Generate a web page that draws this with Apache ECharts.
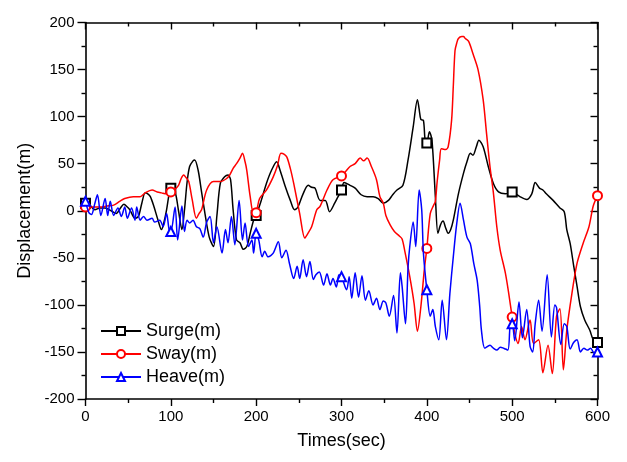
<!DOCTYPE html>
<html><head><meta charset="utf-8">
<script src="https://cdn.jsdelivr.net/npm/echarts@6/dist/echarts.min.js"></script>
<style>html,body{margin:0;padding:0;background:#fff}#c{width:627px;height:462px}</style>
</head><body><div id="c"></div>
<script>
var seriesNames = ['Surge(m)', 'Sway(m)', 'Heave(m)'];
var xTicks = [0, 100, 200, 300, 400, 500, 600];
var yTicks = [-200, -150, -100, -50, 0, 50, 100, 150, 200];

var surgeT = [0,5,11,17,23,30,36,41,45,49,52,58,62,66,70,73,76,80,85,89,92,95,98,100,105,109,113,116,119,122,126,128,132,136,140,145,150,154,158,163,167,170,173,177,181,185,189,193,197,200,206,212,218,224,228,234,240,245,249,255,261,265,269,275,281,286,292,296,300,303,310,316,323,330,337,343,349,355,360,365,372,378,384,389,391,393,396,398,400,403,406,410,413,416,419,422,425,428,431,437,443,447,451,454,458,461,466,472,478,484,492,500,504,509,517,523,527,532,536,540,548,556,561,564,568,572,576,580,585,591,595,600];
var surgeV = [8,6,1,3,3,0,-3,3,7,4,1,-8,-6,8,19,18,15,5,-10,-20,-12,1,18,24,20,0,-20,1,30,47,53,54,43,20,-3,-28,-38,-5,29,36,38,33,1,-31,-34,-41,-38,-24,-10,-5,11,29,43,52,43,26,11,1,4,18,27,25,24,11,11,-1,8,15,22,30,27,24,17,15,15,13,8,11,17,22,27,54,89,118,108,97,96,75,72,84,75,15,-24,-15,-11,-18,-24,-20,-10,18,40,52,61,59,68,75,68,47,29,20,18,20,18,15,12,18,30,24,22,18,11,3,-1,-20,-35,-58,-80,-102,-116,-127,-137,-140];

var swayT = [0,10,17,25,33,40,46,56,64,70,78,84,89,95,100,105,109,112,115,118,121,125,130,133,136,142,150,158,165,169,173,177,181,184,187,189,193,197,200,204,212,220,225,229,233,236,240,244,251,257,260,265,271,275,283,290,300,305,310,316,322,326,330,335,341,345,349,352,357,362,368,371,374,380,385,389,393,397,400,404,408,410,412,415,417,422,425,429,431,433,435,437,441,443,445,449,454,460,466,470,474,478,482,486,492,496,500,503,507,511,515,521,525,531,536,542,547,552,556,560,564,570,576,583,590,595,600];
var swayV = [4,4,4,5,6,10,13,15,15,19,22,20,19,18,20,23,27,34,38,35,31,12,-8,-3,1,22,31,31,34,38,45,50,56,61,52,43,15,-3,-2,13,22,36,48,61,60,57,45,29,-3,-29,-25,-17,1,5,22,33,37,42,47,50,56,53,56,47,33,15,8,-5,-15,-22,-27,-30,-42,-70,-98,-128,-102,-63,-40,-3,6,10,30,54,66,65,68,96,132,170,178,183,185,185,183,180,167,150,118,82,47,19,-17,-42,-66,-88,-113,-130,-141,-123,-137,-116,-141,-137,-172,-143,-173,-112,-104,-169,-127,-88,-56,-35,-17,5,16];

var heaveT = [0,4,7,11,14,18,23,26,29,33,38,42,46,49,54,58,60,64,68,72,78,81,87,91,95,98,100,105,108,113,116,119,122,126,130,134,138,142,146,150,154,160,164,167,171,175,180,184,187,191,195,197,200,203,207,210,214,220,226,230,235,239,244,248,251,255,259,263,267,270,274,279,283,287,290,294,297,300,306,309,312,316,320,324,328,332,337,341,345,349,352,356,361,365,369,371,375,378,380,384,387,391,394,396,400,404,407,410,414,418,423,427,431,435,439,443,447,451,455,459,462,464,468,474,478,482,486,490,495,498,500,503,508,512,517,521,524,527,531,535,541,546,550,552,557,561,564,568,572,576,580,584,588,592,596,600];
var heaveV = [10,-2,-4,8,17,-5,13,-5,10,-5,3,-6,4,-8,3,-10,4,-10,-6,-10,-8,-12,-10,-17,-3,-20,-22,4,-31,5,-22,-10,-13,-10,-17,-19,-28,-12,-6,-34,-17,-45,-20,-34,-6,-36,11,-31,-13,-38,-31,-45,-24,-31,-49,-43,-49,-45,-33,-50,-42,-56,-72,-59,-72,-52,-70,-54,-73,-68,-65,-79,-67,-79,-72,-81,-68,-70,-84,-70,-93,-66,-92,-69,-95,-85,-100,-93,-105,-96,-98,-112,-90,-130,-66,-80,-120,-60,-38,-12,-38,22,1,-45,-84,-112,-105,-123,-137,-95,-137,-88,-49,-14,8,-10,-28,-35,-56,-74,-102,-127,-146,-143,-146,-148,-145,-146,-148,-120,-120,-138,-97,-135,-105,-144,-150,-120,-95,-128,-68,-134,-100,-103,-142,-120,-123,-147,-140,-137,-150,-146,-148,-146,-151,-150];

var colors = ['#000000', '#ff0000', '#0000ff'];
var symbols = ['emptyRect', 'emptyCircle', 'emptyTriangle'];
var markerColors = ['#555555', '#ff6060', '#5050ff'];

function build(T, V) {
  return T.map(function (t, i) {
    if (t % 100 === 0) return { value: [t, V[i]] };
    return { value: [t, V[i]], symbol: 'none' };
  });
}
var allT = [surgeT, swayT, heaveT], allV = [surgeV, swayV, heaveV];

var chart = echarts.init(document.getElementById('c'));
var font = 'Liberation Sans, Arial, sans-serif';
var axisLine = { show: true, onZero: false, lineStyle: { color: '#000', width: 1.6 } };
chart.setOption({
  animation: false,
  backgroundColor: '#fff',
  grid: { left: 85.5, right: 29.5, top: 22.5, bottom: 63 },
  legend: {
    left: 95, top: 317, orient: 'vertical', itemWidth: 40, itemHeight: 10, itemGap: 5,
    textStyle: { fontFamily: font, fontSize: 18, color: '#000' },
    data: seriesNames
  },
  xAxis: [{
    type: 'value', position: 'bottom', min: xTicks[0], max: xTicks[xTicks.length - 1], interval: 100,
    axisLine: axisLine,
    axisTick: { show: true, inside: false, length: 7, lineStyle: { color: '#000', width: 1.4 } },
    minorTick: { show: true, splitNumber: 2, length: 4, lineStyle: { color: '#000', width: 1.4 } },
    splitLine: { show: false },
    axisLabel: { fontFamily: font, fontSize: 15, color: '#000', margin: 10 },
    name: 'Times(sec)', nameLocation: 'middle', nameGap: 33,
    nameTextStyle: { fontFamily: font, fontSize: 18, color: '#000' }
  }, {
    type: 'value', position: 'top', min: 0, max: 600, interval: 100,
    axisLine: axisLine,
    axisTick: { show: true, inside: true, length: 7, lineStyle: { color: '#000', width: 1.4 } },
    minorTick: { show: true, splitNumber: 2, length: 4, lineStyle: { color: '#000', width: 1.4 } },
    splitLine: { show: false }, axisLabel: { show: false }
  }],
  yAxis: [{
    type: 'value', position: 'left', min: yTicks[0], max: yTicks[yTicks.length - 1], interval: 50,
    axisLine: axisLine,
    axisTick: { show: true, inside: false, length: 8, lineStyle: { color: '#000', width: 1.4 } },
    minorTick: { show: true, splitNumber: 2, length: 4, lineStyle: { color: '#000', width: 1.4 } },
    splitLine: { show: false },
    axisLabel: { fontFamily: font, fontSize: 15, color: '#000', margin: 11 },
    name: 'Displacement(m)', nameLocation: 'middle', nameGap: 47,
    nameTextStyle: { fontFamily: font, fontSize: 18, color: '#000' }
  }, {
    type: 'value', position: 'right', min: -200, max: 200, interval: 50,
    axisLine: axisLine,
    axisTick: { show: true, inside: true, length: 7, lineStyle: { color: '#000', width: 1.4 } },
    minorTick: { show: true, splitNumber: 2, length: 4, lineStyle: { color: '#000', width: 1.4 } },
    splitLine: { show: false }, axisLabel: { show: false }
  }],
  series: seriesNames.map(function (n, k) {
    return {
      name: n, type: 'line', xAxisIndex: 0, yAxisIndex: 0,
      data: build(allT[k], allV[k]),
      symbol: symbols[k], symbolSize: 9, showAllSymbol: true,
      smooth: 0.3,
      lineStyle: { color: colors[k], width: 1.5 },
      itemStyle: { color: colors[k], borderColor: markerColors[k], borderWidth: 0.9 },
      z: 2 + k
    };
  })
});
</script>
</body></html>
